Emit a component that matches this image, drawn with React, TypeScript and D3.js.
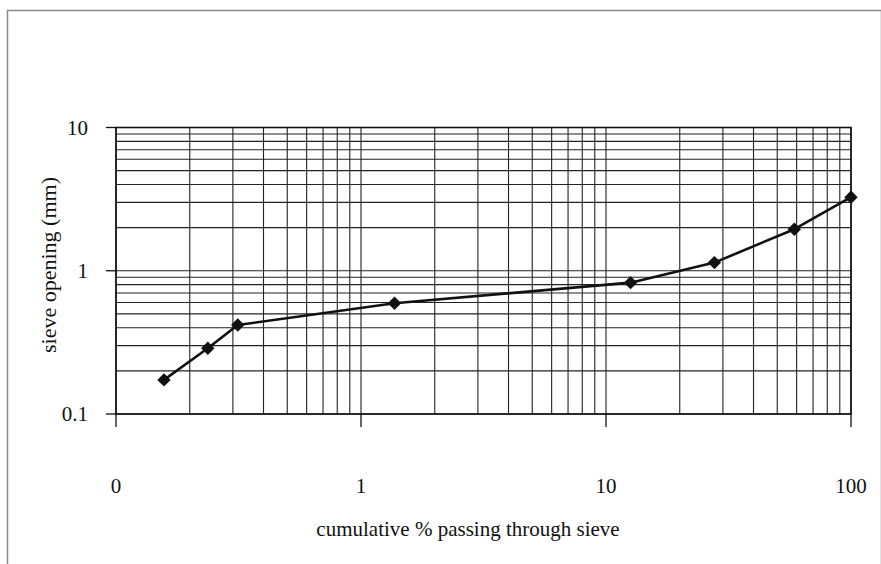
import React from "react";
import * as d3 from "d3";

const passingPct = [0.157, 0.237, 0.314, 1.37, 12.6, 27.7, 58.7, 100];
const sieveMm = [0.173, 0.288, 0.418, 0.593, 0.826, 1.14, 1.95, 3.26];
const xTickValues = [0.1, 1, 10, 100];
const xTickLabels = ["0", "1", "10", "100"];
const yTickValues = [0.1, 1, 10];
const yTickLabels = ["0.1", "1", "10"];
const xTitle = "cumulative % passing through sieve";
const yTitle = "sieve opening (mm)";

const W = 881;
const H = 564;
const left = 116;
const right = 851;
const top = 127.5;
const bottom = 414;

function minorTicks(lo: number, hi: number): number[] {
  const out: number[] = [];
  for (let d = lo; d < hi; d *= 10) {
    for (let k = 2; k <= 9; k++) out.push(d * k);
  }
  return out;
}

export default function App() {
  const x = d3.scaleLog().domain([0.1, 100]).range([left, right]);
  const y = d3.scaleLog().domain([0.1, 10]).range([bottom, top]);
  const pts = passingPct.map((v, i) => [x(v), y(sieveMm[i])] as [number, number]);
  const line = d3.line().curve(d3.curveLinear)(pts) || "";
  const marker = d3.symbol().type(d3.symbolSquare).size(90)() || "";
  const font = "'Liberation Serif', 'Times New Roman', serif";
  const xMinor = minorTicks(0.1, 100);
  const yMinor = minorTicks(0.1, 10);

  return (
    <svg
      width={W}
      height={H}
      style={{ position: "absolute", left: 0, top: 0, background: "#fff" }}
    >
      <rect x={0} y={0} width={W} height={H} fill="#fff" />
      <rect x={7.5} y={10.5} width={W - 7} height={H} fill="none" stroke="#888" strokeWidth={1.5} />
      {[...xMinor, ...xTickValues].map((v, i) => (
        <line key={"vx" + i} x1={x(v)} x2={x(v)} y1={top} y2={bottom} stroke="#222" strokeWidth={1.1} />
      ))}
      {[...yMinor, ...yTickValues].map((v, i) => (
        <line key={"hy" + i} x1={left} x2={right} y1={y(v)} y2={y(v)} stroke="#222" strokeWidth={1.1} />
      ))}
      <rect x={left} y={top} width={right - left} height={bottom - top} fill="none" stroke="#111" strokeWidth={1.6} />
      {xTickValues.map((v, i) => (
        <g key={"xt" + i}>
          <line x1={x(v)} x2={x(v)} y1={bottom} y2={bottom + 13} stroke="#111" strokeWidth={1.3} />
          <text x={x(v)} y={493} textAnchor="middle" fontFamily={font} fontSize={21} fill="#111">
            {xTickLabels[i]}
          </text>
        </g>
      ))}
      {yTickValues.map((v, i) => (
        <g key={"yt" + i}>
          <line x1={left - 10} x2={left} y1={y(v)} y2={y(v)} stroke="#111" strokeWidth={1.3} />
          <text x={88} y={y(v)} dy="0.35em" textAnchor="end" fontFamily={font} fontSize={21} fill="#111">
            {yTickLabels[i]}
          </text>
        </g>
      ))}
      <text x={468} y={536} textAnchor="middle" fontFamily={font} fontSize={21} fill="#111">
        {xTitle}
      </text>
      <text
        transform={`translate(56,265) rotate(-90)`}
        textAnchor="middle"
        fontFamily={font}
        fontSize={22}
        fill="#111"
      >
        {yTitle}
      </text>
      <path d={line} fill="none" stroke="#111" strokeWidth={2.6} strokeLinejoin="round" />
      {pts.map((p, i) => (
        <path key={"m" + i} d={marker} transform={`translate(${p[0]},${p[1]}) rotate(45)`} fill="#111" />
      ))}
    </svg>
  );
}
